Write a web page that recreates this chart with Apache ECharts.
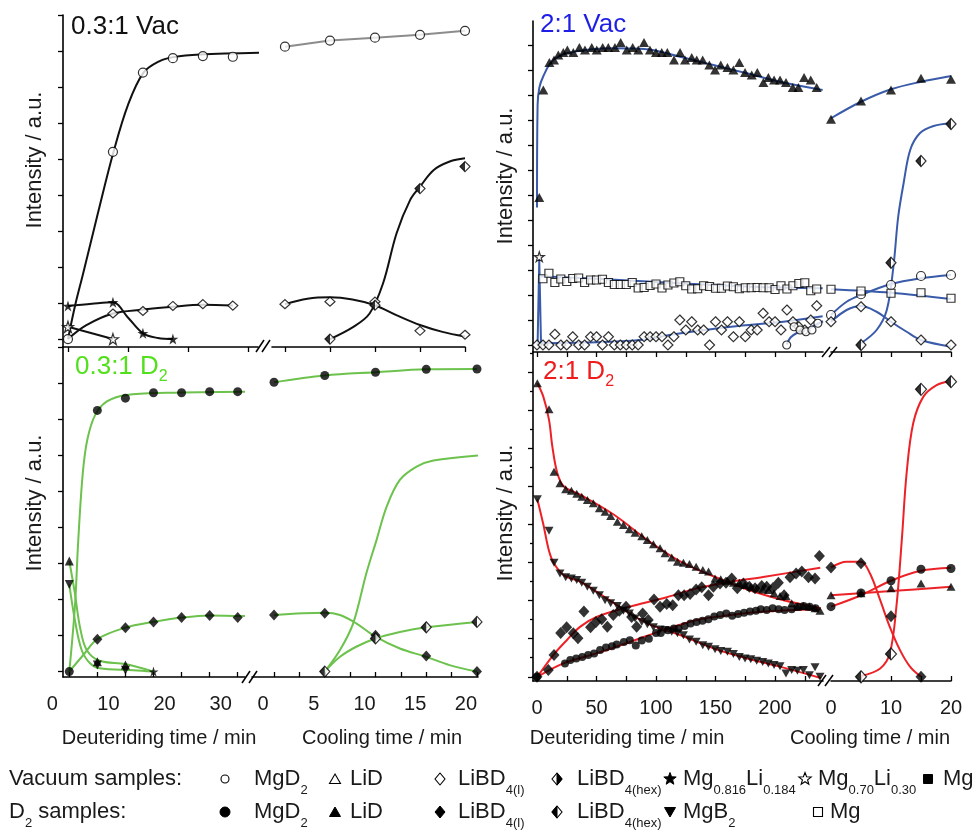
<!DOCTYPE html>
<html><head><meta charset="utf-8">
<script src="https://cdn.jsdelivr.net/npm/echarts@6/dist/echarts.min.js"></script>
<style>html,body{margin:0;padding:0;background:#fff}#c{width:975px;height:833px}</style>
</head><body><div id="c"></div>
<script>
// ---------------- tick / label values ----------------
const tlDeutTicks = [0, 10, 20, 30];
const tlCoolTicks = [0, 5, 10, 15, 20];
const blDeutTicks = [0, 5, 10, 15, 20, 25, 30];
const blDeutLabels = [0, 10, 20, 30];
const blCoolTicks = [0, 2.5, 5, 7.5, 10, 12.5, 15, 17.5, 20];
const blCoolLabels = [0, 5, 10, 15, 20];
const rDeutTicks = [0, 25, 50, 75, 100, 125, 150, 175, 200, 225];
const rDeutLabels = [0, 50, 100, 150, 200];
const rCoolTicks = [5, 10, 15, 20];
const rCoolLabels = [0, 10, 20];
const leftYTicks = [0, 1, 2, 3, 4, 5, 6, 7, 8, 9];
const trYTicks = [0, 1, 2, 3, 4, 5, 6, 7, 8, 9, 10, 11, 12];
const brYTicks = [0, 1, 2, 3, 4, 5, 6, 7, 8];
const brYMinor = [0.5, 1.5, 2.5, 3.5, 4.5, 5.5, 6.5, 7.5, 8.5];

// ---------------- 0.3:1 Vac (top left) ----------------
const tlDeutT = [0, 7.5, 12.5, 17.5, 22.5, 27.5];
const tlMgD2Deut = [0, 5.2, 7.4, 7.8, 7.86, 7.84];
const tlMgD2DeutFit = [[0,0],[1.2,0.94],[2.5,1.8],[5,3.5],[7.6,5.2],[10,6.5],[12.6,7.4],[15.3,7.72],[17.6,7.83],[22,7.9],[32,7.95]];
const tlStarT = [0, 7.5, 12.5, 17.5];
const tlStarDeut = [0.92, 1.02, 0.16, 0];
const tlStarDeutFit = [[0,0.92],[4,0.98],[7.5,1.02],[10,0.6],[12.5,0.16],[15,0.03],[17.5,0]];
const tlOStarT = [0, 7.5];
const tlOStarDeut = [0.34, 0];
const tlDiaT = [7.5, 12.5, 17.5, 22.5, 27.5];
const tlDiaDeut = [0.71, 0.78, 0.92, 0.97, 0.93];
const tlDiaDeutFit = [[0,0],[3,0.38],[7.5,0.71],[12.5,0.82],[17.5,0.9],[22.5,0.95],[27.5,0.93]];
const coolT = [0, 5, 10, 15, 20];
const coolT4 = [5, 10, 15, 20];
const tlMgD2Cool = [8.12, 8.29, 8.37, 8.45, 8.56];
const tlDiaCool = [0.97, 1.04, 1.04, 0.23, 0.12];
const tlDiaCoolFit = [[0,0.97],[2.5,1.12],[5,1.16],[7.5,1.1],[10,0.94],[12.5,0.65],[15,0.39],[17.5,0.2],[20,0.07]];
const tlHexCool = [0, 0.94, 4.18, 4.79];
const tlHexCoolFit = [[5,0],[7.6,0.34],[9.4,0.71],[10.9,1.55],[12.4,2.94],[13.9,3.86],[15,4.23],[16.5,4.69],[18.3,4.93],[20,5.02]];

// ---------------- 0.3:1 D2 (bottom left) ----------------
const blDeutT = [0, 5, 10, 15, 20, 25, 30];
const blMgD2Deut = [0, 7.25, 7.59, 7.74, 7.74, 7.77, 7.77];
const blMgD2DeutFit = [[0,0],[1.0,1.8],[1.6,3.65],[2.4,5.5],[3.2,6.43],[4.6,7.12],[6.7,7.5],[10.2,7.68],[17.4,7.74],[31.3,7.77]];
const blDiaT = [5, 10, 15, 20, 25, 30];
const blDiaDeut = [0.9, 1.22, 1.38, 1.5, 1.56, 1.5];
const blDiaDeutFit = [[0,0],[2.5,0.46],[5,0.9],[10,1.22],[15,1.38],[20,1.5],[25,1.56],[31.3,1.54]];
const blEarlyT = [0, 5, 10];
const blLiDDeut = [3.07, 0.27, 0.18];
const blLiDDeutFit = [[0,3.07],[1.0,2.17],[1.9,1.24],[3.1,0.6],[5.4,0.3],[10,0.21],[15,0]];
const blMgB2Deut = [2.42, 0.18, 0.04];
const blMgB2DeutFit = [[0,2.42],[1.0,1.43],[2.2,0.6],[3.7,0.23],[5.4,0.09],[11.4,0.04],[15,0]];
const blStarDeut = [[15, 0]];
const blMgD2Cool = [8.03, 8.22, 8.31, 8.39, 8.40];
const blDiaCool = [1.57, 1.62, 1.01, 0.43, 0];
const blDiaCoolFit = [[0,1.57],[5,1.63],[6.5,1.57],[8.1,1.34],[10,0.97],[12.4,0.64],[15,0.41],[17.3,0.18],[20,0]];
const blHexCool = [0, 0.92, 1.23, 1.38];
const blHexCoolFit = [[5,0],[6.5,0.41],[8.1,0.69],[10,0.92],[12.4,1.1],[15,1.23],[20,1.38]];
const blRiseCoolFit = [[5,0],[6.5,0.6],[7.8,1.34],[9.1,2.73],[10.1,3.65],[11.1,4.58],[12.4,5.32],[14.05,5.69],[15.7,5.86],[20.1,6.0]];

// ---------------- 2:1 Vac (top right) ----------------
const trLiDDeut = [[1.9,5.9],[5.3,10.2],[10.4,11.3],[14.3,11.4],[17.9,11.6],[22.1,11.7],[25.5,11.8],[30.5,11.7],[35.6,11.9],[40.3,11.8],[46,11.9],[50.2,11.8],[55.2,11.9],[59.9,11.9],[65.5,11.9],[70.3,12.1],[75.4,11.8],[80.4,11.9],[85.1,11.8],[89.9,12.1],[94.9,11.8],[100,11.7],[104.8,11.7],[109.5,11.7],[115.1,11.4],[120.2,11.7],[124.4,11.4],[130,11.5],[134.2,11.4],[139.2,11.4],[144.8,11.2],[149.6,11.0],[154.4,11.2],[160,11.1],[165,11.0],[170,11.3],[174.8,10.9],[180.4,10.8],[185.1,10.9],[190.2,10.5],[194.4,10.7],[199.2,10.6],[204.2,10.6],[209.2,10.5],[214.9,10.3],[219.6,10.3],[224.4,10.7],[230,10.6],[235,10.3]];
const trLiDDeutFit = [[0,5.5],[0.5,9.6],[2,10.3],[5.3,10.75],[12.3,11.33],[24.9,11.67],[64.1,11.87],[92.2,11.83],[120.2,11.53],[148.2,11.2],[176.2,10.87],[204.2,10.53],[240,10.2]];
const trSqT = [5,10,15,20,25,30,35,40,45,50,55,60,65,70,75,80,85,90,95,100,105,110,115,120,125,130,135,140,145,150,155,160,165,170,175,180,185,190,195,200,205,210,215,220,225,230,235];
const trSqDeut = [2.65,2.87,2.5,2.64,2.54,2.66,2.68,2.5,2.6,2.6,2.63,2.5,2.42,2.42,2.42,2.5,2.28,2.3,2.38,2.44,2.28,2.4,2.48,2.53,2.37,2.24,2.25,2.37,2.34,2.27,2.27,2.36,2.33,2.25,2.29,2.29,2.3,2.29,2.29,2.22,2.37,2.24,2.37,2.46,2.49,2.17,2.24];
const trSqDeutFit = [[3,2.75],[50,2.65],[120,2.47],[180,2.33],[240,2.27]];
const trDiaT = [0,5,10,15,20,25,30,35,40,45,50,55,60,65,70,75,80,85,90,95,100,105,110,115,120,125,130,135,140,145,150,155,160,165,170,175,180,185,190,195,200,205,210,215,220,225,230,235];
const trDiaDeut = [0,0,0,0.43,0,0,0.33,0,0,0.33,0.33,0,0.33,0,0,0,0,0,0.33,0.33,0.33,0.33,0,0.33,1.0,0.6,0.93,0.6,0.6,0,0.93,0.6,0.93,0.33,0.93,0.33,0.6,0.6,1.27,0.93,0.93,0.6,1.4,0.93,0.73,0.6,1.0,1.57];
const trDiaDeutFit = [[0,0.07],[40,0.1],[86.6,0.2],[118,0.45],[163,0.73],[207,0.93],[240,1.15]];
const trCircDeut = [[209.8,0],[216,0.73],[221,0.6],[226,0.53],[231,0.6],[236,0.87]];
const trCircDeutFit = [[209.8,0.02],[213,0.3],[218,0.47],[226,0.6],[236,0.85],[240.3,0.95]];
const trOStarDeut = [[1.9, 3.53]];
const trOStarDeutFit = [[0.5,0],[1.9,3.4],[3.4,0]];
const trLiDCool = [9.03, 9.76, 10.2, 10.67, 10.63];
const trLiDCoolFit = [[0,9.07],[5,9.73],[10,10.23],[15,10.53],[20,10.76]];
const trHexCool = [0, 3.29, 7.36, 8.84];
const trHexCoolFit = [[5,0.07],[7.6,0.6],[9.3,1.4],[10.4,3.13],[11.2,5.13],[12.1,6.47],[13.2,7.8],[14.8,8.47],[17.1,8.76],[20,8.87]];
const trMgD2Cool = [1.2, 2.03, 2.4, 2.76, 2.8];
const trMgD2CoolFit = [[0,1.2],[2.6,1.73],[5,2.0],[10,2.44],[15,2.67],[20,2.8]];
const trSqCool = [2.23, 2.16, 2.07, 2.09, 1.87];
const trSqCoolFit = [[0,2.23],[10,2.09],[20,1.84]];
const trDiaCool = [0.93, 1.53, 0.93, 0.2, 0];
const trDiaCoolFit = [[0,0.93],[2.6,1.4],[5,1.56],[7.6,1.33],[10,0.93],[12.6,0.53],[15,0.2],[20,-0.07]];

// ---------------- 2:1 D2 (bottom right) ----------------
const brDeutT = [0.3,10.1,14.3,19.3,24.1,28.9,33.4,37.6,42.3,47.3,52.4,57.2,61.9,67.5,72.6,77.6,82.4,88,92.7,97.8,103.4,107.6,113.2,118,123,128.1,133.7,139.3,144.1,149.6,154.4,160,165,170,174.8,179.6,184.6,189.6,194.4,199.2,204.2,209.2,214,218.8,223.8,228.9,233.6,237.8];
const brLiDDeut = [7.70,7.02,5.38,5.08,4.92,4.88,4.80,4.72,4.64,4.55,4.42,4.33,4.22,4.07,3.98,3.87,3.78,3.69,3.59,3.48,3.37,3.24,3.13,3.02,2.99,2.96,2.89,2.80,2.76,2.58,2.56,2.52,2.47,2.47,2.41,2.36,2.32,2.29,2.28,2.19,2.12,2.12,1.93,1.84,1.86,1.84,1.80,1.73];
const brMgB2Deut = [4.66,3.83,2.99,2.71,2.61,2.58,2.54,2.47,2.36,2.26,2.14,2.01,1.93,1.86,1.73,1.66,1.53,1.44,1.38,1.30,1.24,1.23,1.18,1.14,1.09,0.98,0.92,0.83,0.79,0.72,0.68,0.66,0.60,0.52,0.48,0.46,0.42,0.39,0.35,0.31,0.28,0.09,0.18,0.16,0.18,0.04,0.25,0];
const brLiDDeutFit = [[0.3,7.70],[5.3,7.35],[10.1,6.74],[12.9,6.04],[17.1,5.34],[22.7,4.99],[36.7,4.77],[64.7,4.25],[92.7,3.59],[120.7,3.02],[148.7,2.63],[176.8,2.29],[204.8,2.03],[238.4,1.80]];
const brMgB2DeutFit = [[0.3,4.66],[5.3,4.0],[10.1,3.3],[14.3,2.97],[22.7,2.66],[36.7,2.49],[64.7,1.93],[92.7,1.40],[120.7,1.09],[148.7,0.74],[176.8,0.48],[204.8,0.26],[238.4,-0.03]];
const brDiaDeut = [[0,0],[9.5,0.18],[14.3,0.57],[19.9,1.15],[24.9,1.30],[30.5,1.14],[34.4,1.01],[39.4,1.71],[45,1.30],[49.6,1.44],[54.4,1.51],[59.1,1.31],[64.1,1.62],[69.2,1.73],[74.8,1.84],[79.5,1.57],[83.7,1.31],[88.8,1.66],[93.5,1.49],[98.3,2.03],[103.4,1.84],[109,1.91],[114,1.88],[118.8,2.14],[123.6,2.14],[128.6,2.17],[133.7,2.29],[138.4,2.35],[144.1,2.14],[148.2,2.36],[153.8,2.45],[158.8,2.47],[163.6,2.58],[168.3,2.32],[173.4,2.45],[178.4,2.36],[183.2,2.32],[188.8,2.38],[193,2.36],[198.1,2.32],[202.8,2.47],[207.6,2.14],[212.6,2.61],[217.7,2.71],[222.5,2.76],[228.1,2.61],[233.6,2.58],[237.3,3.17]];
const brDiaDeutFit = [[0.3,0],[13.7,0.57],[25,0.96],[36.1,1.31],[50,1.57],[78,1.84],[106,2.06],[134,2.32],[162,2.49],[190,2.62],[238,2.86]];
const brCircDeut = [[0,0],[23.5,0.35],[28,0.44],[33,0.48],[38,0.52],[43,0.57],[48,0.61],[53,0.7],[58,0.77],[63,0.8],[67,0.85],[73,0.91],[78,0.96],[83,0.82],[88,0.95],[94,1.0],[100,1.15],[104,1.15],[110,1.22],[115,1.27],[119,1.27],[124,1.33],[129,1.4],[134,1.44],[139,1.47],[144,1.51],[149,1.58],[154,1.62],[159,1.66],[164,1.6],[169,1.65],[174,1.68],[179,1.71],[184,1.73],[188,1.77],[193,1.75],[198,1.8],[203,1.77],[208,1.75],[214,1.77],[219,1.84],[224,1.86],[229,1.84],[234,1.8]];
const brCircDeutFit = [[0.3,0],[22.7,0.36],[50.6,0.62],[78.6,0.92],[106.6,1.23],[134.6,1.49],[162.6,1.62],[190.6,1.71],[238.4,1.77]];
const brDiaCoolT = [0, 5, 10, 15];
const brDiaCool = [2.87, 2.98, 1.59, 0];
const brDiaCoolFit = [[0,2.87],[2.6,3.02],[5,3.02],[6.5,2.71],[8.2,2.01],[9.8,1.31],[11.5,0.7],[13.2,0.26],[15,0]];
const brHexCool = [0, 0.6, 7.54, 7.74];
const brHexCoolFit = [[5,0.02],[8.2,0.22],[9.8,0.61],[10.9,1.84],[11.8,3.59],[12.6,5.34],[13.7,6.65],[15.4,7.35],[17.6,7.65],[19.8,7.76]];
const brCircCool = [1.84, 2.2, 2.52, 2.82, 2.84];
const brCircCoolFit = [[0,1.84],[5,2.14],[10,2.52],[15,2.78],[20,2.86]];
const brLiDCool = [2.14, 2.19, 2.32, 2.45, 2.36];
const brLiDCoolFit = [[0,2.14],[10,2.25],[20,2.36]];

// ---------------- rendering ----------------
const FONT = '"Liberation Sans", Arial, Helvetica, sans-serif';
const STAR = 'M50,0L61.2,34.5L97.6,34.5L68.2,55.9L79.4,90.5L50,69.1L20.6,90.5L31.8,55.9L2.4,34.5L38.8,34.5Z';
const C_TL = '#111111', C_GREY = '#8c8c8c', C_TR = '#3a5ba9', C_BL = '#6cc24c', C_BR = '#ec2227';
const zip = (xs, ys) => xs.map((x, i) => [x, ys[i]]);

const grids = [
  {left: 63, top: 15, width: 195, height: 332},
  {left: 272, top: 15, width: 193, height: 332},
  {left: 63, top: 347, width: 182, height: 330},
  {left: 252, top: 347, width: 226, height: 330},
  {left: 533, top: 21, width: 290, height: 331},
  {left: 831, top: 21, width: 120, height: 331},
  {left: 533, top: 352, width: 290, height: 329},
  {left: 831, top: 352, width: 120, height: 329}
];

function xAx(g, min, max, ticks, labels, inside, pad) {
  return {type: 'value', gridIndex: g, min, max, position: 'bottom',
    axisLine: {show: true, onZero: false, lineStyle: {color: '#000', width: 1.6}},
    axisTick: {show: true, customValues: ticks, inside: !!inside, length: 5, lineStyle: {color: '#000', width: 1.3}},
    axisLabel: {show: !!labels, customValues: labels || [], fontSize: 20, fontFamily: FONT, color: '#1a1a1a', margin: 17, padding: pad || 0},
    splitLine: {show: false}};
}
function yAx(g, min, max, ticks, show, noLine, len) {
  return {type: 'value', gridIndex: g, min, max, show, position: 'left',
    axisLine: {show: !noLine, onZero: false, lineStyle: {color: '#000', width: 1.6}},
    axisTick: {show: true, customValues: ticks || [], length: len || 5, lineStyle: {color: '#000', width: 1.3}},
    axisLabel: {show: false}, splitLine: {show: false}};
}

const xAxis = [
  xAx(0, -0.83, 31.7, tlDeutTicks),
  xAx(1, -1.44, 20, tlCoolTicks),
  xAx(2, -1.12, 31.3, blDeutTicks, blDeutLabels, true, [0, 34, 0, 0]),
  xAx(3, -2.17, 20.1, blCoolTicks, blCoolLabels, true, [0, 22, 0, 0]),
  xAx(4, -3.36, 240.3, rDeutTicks),
  xAx(5, 0, 20, rCoolTicks),
  xAx(6, -3.36, 240.3, rDeutTicks, rDeutLabels, true),
  xAx(7, 0, 20, rCoolTicks, rCoolLabels, true)
];
const yAxis = [
  yAx(0, -0.22, 9.0, leftYTicks, true),
  yAx(1, -0.22, 9.0, [], false),
  yAx(2, -0.15, 9.01, leftYTicks, true),
  yAx(3, -0.15, 9.01, [], false),
  yAx(4, -0.28, 12.96, trYTicks, true),
  yAx(5, -0.28, 12.96, [], false),
  yAx(6, -0.11, 8.52, brYTicks, true),
  yAx(7, -0.11, 8.52, [], false),
  yAx(6, -0.11, 8.52, brYMinor, true, true, 3)
];

const OPEN = {color: '#fff', borderColor: '#000', borderWidth: 1.2};
const FILL = {color: '#000'};
function sc(g, data, kind, size) {
  const b = {type: 'scatter', xAxisIndex: g, yAxisIndex: g, data, z: 5, symbolSize: size, silent: true, animation: false};
  switch (kind) {
    case 'oc': return [Object.assign({}, b, {symbol: 'circle', itemStyle: OPEN})];
    case 'fc': return [Object.assign({}, b, {symbol: 'circle', itemStyle: FILL})];
    case 'ft': return [Object.assign({}, b, {symbol: 'triangle', itemStyle: FILL})];
    case 'fdt': return [Object.assign({}, b, {symbol: 'triangle', symbolRotate: 180, itemStyle: FILL})];
    case 'od': return [Object.assign({}, b, {symbol: 'diamond', itemStyle: OPEN})];
    case 'fd': return [Object.assign({}, b, {symbol: 'diamond', itemStyle: FILL})];
    case 'fs': return [Object.assign({}, b, {symbol: 'path://' + STAR, itemStyle: FILL})];
    case 'os': return [Object.assign({}, b, {symbol: 'path://' + STAR, itemStyle: OPEN})];
    case 'osq': return [Object.assign({}, b, {symbol: 'rect', itemStyle: OPEN})];
    case 'hd': {
      const w = size[0], h = size[1];
      return [Object.assign({}, b, {symbol: 'diamond', itemStyle: OPEN}),
        Object.assign({}, b, {z: 6, symbol: 'path://M1,0L0,1L1,2Z', symbolSize: [w / 2, h], symbolOffset: [-w / 4, 0], itemStyle: FILL})];
    }
  }
}
function ln(g, data, color, smooth, width) {
  return {type: 'line', xAxisIndex: g, yAxisIndex: g, data, symbol: 'none', showSymbol: false,
    smooth: smooth === undefined ? 0.35 : smooth,
    lineStyle: {color, width: width || 2}, z: 3, silent: true, animation: false};
}

const series = [].concat(
  ln(0, tlMgD2DeutFit, C_TL), ln(0, tlStarDeutFit, C_TL), ln(0, zip(tlOStarT, tlOStarDeut), C_TL, 0), ln(0, tlDiaDeutFit, C_TL),
  ln(1, zip(coolT, tlMgD2Cool), C_GREY, 0), ln(1, tlDiaCoolFit, C_TL), ln(1, tlHexCoolFit, C_TL),
  sc(0, zip(tlDeutT, tlMgD2Deut), 'oc', 9), sc(0, zip(tlStarT, tlStarDeut), 'fs', 11), sc(0, zip(tlOStarT, tlOStarDeut), 'os', 11),
  sc(0, zip(tlDiaT, tlDiaDeut), 'od', [10, 9]),
  sc(1, zip(coolT, tlMgD2Cool), 'oc', 9), sc(1, zip(coolT, tlDiaCool), 'od', [10, 9]), sc(1, zip(coolT4, tlHexCool), 'hd', [10, 10]),
  ln(2, blMgD2DeutFit, C_BL), ln(2, blDiaDeutFit, C_BL), ln(2, blLiDDeutFit, C_BL), ln(2, blMgB2DeutFit, C_BL),
  ln(3, zip(coolT, blMgD2Cool), C_BL), ln(3, blDiaCoolFit, C_BL), ln(3, blHexCoolFit, C_BL), ln(3, blRiseCoolFit, C_BL),
  sc(2, zip(blDeutT, blMgD2Deut), 'fc', 9), sc(2, zip(blDiaT, blDiaDeut), 'fd', [10, 11]),
  sc(2, zip(blEarlyT, blLiDDeut), 'ft', 9), sc(2, zip(blEarlyT, blMgB2Deut), 'fdt', 9), sc(2, blStarDeut, 'fs', 10),
  sc(3, zip(coolT, blMgD2Cool), 'fc', 9), sc(3, zip(coolT, blDiaCool), 'fd', [10, 11]), sc(3, zip(coolT4, blHexCool), 'hd', [10, 11]),
  ln(4, trLiDDeutFit, C_TR), ln(4, trSqDeutFit, C_TR), ln(4, trDiaDeutFit, C_TR), ln(4, trCircDeutFit, C_TR), ln(4, trOStarDeutFit, C_TR, 0),
  ln(5, trLiDCoolFit, C_TR), ln(5, trHexCoolFit, C_TR), ln(5, trMgD2CoolFit, C_TR), ln(5, trSqCoolFit, C_TR), ln(5, trDiaCoolFit, C_TR),
  sc(4, trLiDDeut, 'ft', [10, 9]), sc(4, zip(trSqT, trSqDeut), 'osq', 8), sc(4, zip(trDiaT, trDiaDeut), 'od', [10, 10]),
  sc(4, trCircDeut, 'oc', 8), sc(4, trOStarDeut, 'os', 10),
  sc(5, zip(coolT, trLiDCool), 'ft', [10, 9]), sc(5, zip(coolT4, trHexCool), 'hd', [10, 11]), sc(5, zip(coolT, trMgD2Cool), 'oc', 9),
  sc(5, zip(coolT, trSqCool), 'osq', 8), sc(5, zip(coolT, trDiaCool), 'od', [10, 10]),
  ln(6, brLiDDeutFit, C_BR), ln(6, brMgB2DeutFit, C_BR), ln(6, brDiaDeutFit, C_BR), ln(6, brCircDeutFit, C_BR),
  ln(7, brDiaCoolFit, C_BR), ln(7, brHexCoolFit, C_BR), ln(7, brCircCoolFit, C_BR), ln(7, brLiDCoolFit, C_BR),
  sc(6, zip(brDeutT, brLiDDeut), 'ft', [9, 8]), sc(6, zip(brDeutT, brMgB2Deut), 'fdt', [9, 8]),
  sc(6, brDiaDeut, 'fd', [11, 12]), sc(6, brCircDeut, 'fc', 8),
  sc(7, zip(brDiaCoolT, brDiaCool), 'fd', [11, 12]), sc(7, zip(coolT4, brHexCool), 'hd', [11, 12]),
  sc(7, zip(coolT, brCircCool), 'fc', 9), sc(7, zip(coolT, brLiDCool), 'ft', [9, 8])
);

// ---------------- text & legend (graphic) ----------------
const graphic = [];
function txt(x, y, text, size, fill, align, rotation, rich) {
  graphic.push({type: 'text', x, y, rotation: rotation || 0, silent: true, z: 10,
    style: {text, fontSize: size, fontFamily: FONT, fill: fill || '#1a1a1a', align: align || 'left', verticalAlign: 'middle', rich}});
}
function subRich(main, sub, fill, lh, sublh) {
  return {m: {fontSize: main, fontFamily: FONT, fill, lineHeight: lh},
          s: {fontSize: sub, fontFamily: FONT, fill, lineHeight: sublh, verticalAlign: 'bottom'}};
}
txt(71, 27, '0.3:1 Vac', 26, '#111111');
txt(540, 25, '2:1 Vac', 26, '#1e1ee6');
txt(75, 367, '{m|0.3:1 D}{s|2}', 26, '#52e01c', 'left', 0, subRich(26, 16, '#52e01c', 36, 12));
txt(543, 372, '{m|2:1 D}{s|2}', 26, '#f01c1c', 'left', 0, subRich(26, 16, '#f01c1c', 36, 12));
const yTitle = 'Intensity / a.u.';
txt(35, 160, yTitle, 22, '#1a1a1a', 'center', Math.PI / 2);
txt(35, 503, yTitle, 22, '#1a1a1a', 'center', Math.PI / 2);
txt(506, 176, yTitle, 22, '#1a1a1a', 'center', Math.PI / 2);
txt(506, 513, yTitle, 22, '#1a1a1a', 'center', Math.PI / 2);
txt(159, 738, 'Deuteriding time / min', 20, '#1a1a1a', 'center');
txt(382, 738, 'Cooling time / min', 20, '#1a1a1a', 'center');
txt(627, 738, 'Deuteriding time / min', 20, '#1a1a1a', 'center');
txt(870, 738, 'Cooling time / min', 20, '#1a1a1a', 'center');
[[256, 352, 264, 340], [262, 352, 270, 340], [242, 683, 250, 671], [249, 683, 257, 671],
 [822, 357, 830, 347], [829, 357, 837, 347], [818, 686, 826, 675], [825, 686, 833, 675]].forEach(p => {
  graphic.push({type: 'line', silent: true, z: 10, shape: {x1: p[0], y1: p[1], x2: p[2], y2: p[3]}, style: {stroke: '#000', lineWidth: 1.5}});
});
function starPoints(cx, cy, R) {
  const pts = [];
  for (let i = 0; i < 10; i++) {
    const r = i % 2 === 0 ? R : R * 0.42, a = -Math.PI / 2 + i * Math.PI / 5;
    pts.push([cx + r * Math.cos(a), cy + r * Math.sin(a)]);
  }
  return pts;
}
const LR = subRich(22, 13, '#1a1a1a', 36, 12);
function lsym(kind, cx, cy) {
  const open = {fill: '#fff', stroke: '#000', lineWidth: 1.1}, fill = {fill: '#000', stroke: '#000', lineWidth: 1};
  const el = (o) => graphic.push(Object.assign({silent: true, z: 10}, o));
  if (kind === 'oc' || kind === 'fc') el({type: 'circle', shape: {cx, cy, r: kind === 'oc' ? 4 : 5}, style: kind === 'oc' ? open : fill});
  if (kind === 'ot' || kind === 'ft') el({type: 'polygon', shape: {points: [[cx, cy - 5], [cx + 5.5, cy + 4.5], [cx - 5.5, cy + 4.5]]}, style: kind === 'ot' ? open : fill});
  if (kind === 'fdt') el({type: 'polygon', shape: {points: [[cx, cy + 5], [cx + 5.5, cy - 4.5], [cx - 5.5, cy - 4.5]]}, style: fill});
  if (kind === 'od' || kind === 'fd' || kind === 'hdl' || kind === 'hdr') el({type: 'polygon', shape: {points: [[cx, cy - 6], [cx + 5, cy], [cx, cy + 6], [cx - 5, cy]]}, style: kind === 'fd' ? fill : open});
  if (kind === 'hdl') el({type: 'polygon', shape: {points: [[cx, cy - 6], [cx - 5, cy], [cx, cy + 6]]}, style: fill});
  if (kind === 'hdr') el({type: 'polygon', shape: {points: [[cx, cy - 6], [cx + 5, cy], [cx, cy + 6]]}, style: fill});
  if (kind === 'fs' || kind === 'os') el({type: 'polygon', shape: {points: starPoints(cx, cy, 6.5)}, style: kind === 'os' ? open : fill});
  if (kind === 'fsq' || kind === 'osq') el({type: 'rect', shape: {x: cx - 4.5, y: cy - 4.5, width: 9, height: 9}, style: kind === 'osq' ? open : fill});
}
const legendVac = [
  ['oc', 225, '{m|MgD}{s|2}', 254], ['ot', 335, '{m|LiD}', 350], ['od', 440, '{m|LiBD}{s|4(l)}', 458],
  ['hdr', 557, '{m|LiBD}{s|4(hex)}', 577], ['fs', 670, '{m|Mg}{s|0.816}{m|Li}{s|0.184}', 683],
  ['os', 805, '{m|Mg}{s|0.70}{m|Li}{s|0.30}', 818], ['fsq', 928, '{m|Mg}', 943]
];
const legendD2 = [
  ['fc', 225, '{m|MgD}{s|2}', 254], ['ft', 335, '{m|LiD}', 350], ['fd', 440, '{m|LiBD}{s|4(l)}', 458],
  ['hdl', 557, '{m|LiBD}{s|4(hex)}', 577], ['fdt', 670, '{m|MgB}{s|2}', 683], ['osq', 818, '{m|Mg}', 830]
];
txt(9, 779, '{m|Vacuum samples:}', 22, '#1a1a1a', 'left', 0, LR);
txt(9, 812, '{m|D}{s|2}{m| samples:}', 22, '#1a1a1a', 'left', 0, LR);
legendVac.forEach(it => { lsym(it[0], it[1], 779); txt(it[3], 779, it[2], 22, '#1a1a1a', 'left', 0, LR); });
legendD2.forEach(it => { lsym(it[0], it[1], 812); txt(it[3], 812, it[2], 22, '#1a1a1a', 'left', 0, LR); });

const chart = echarts.init(document.getElementById('c'), null, {renderer: 'canvas'});
chart.setOption({animation: false, backgroundColor: '#fff', grid: grids, xAxis, yAxis, series, graphic});
</script></body></html>
